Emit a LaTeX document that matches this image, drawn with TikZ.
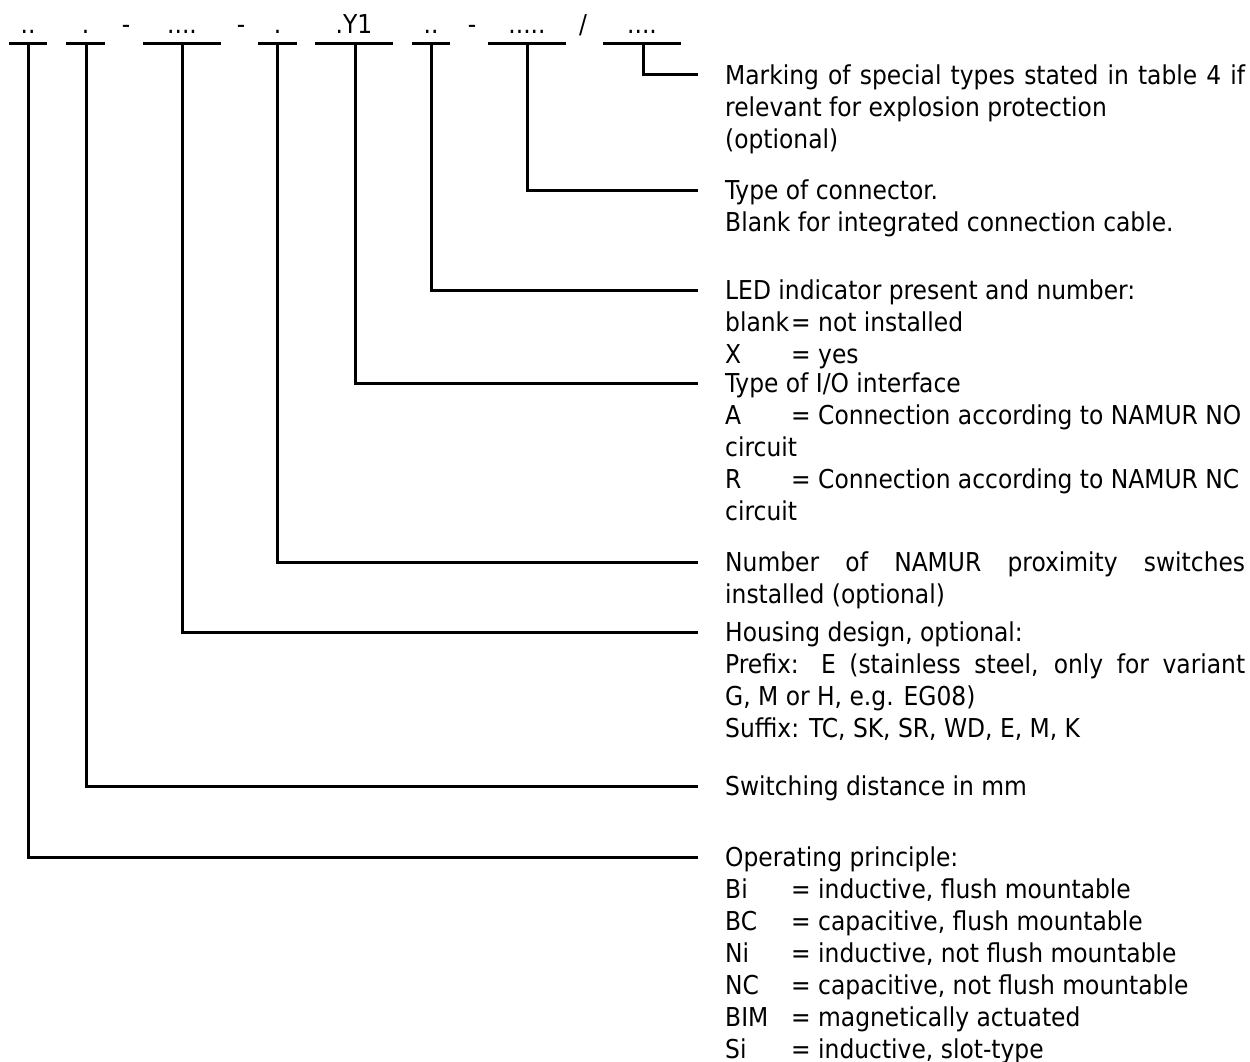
\documentclass[tikz,border=0pt]{standalone}
\usepackage{fontspec}
\IfFontExistsTF{DejaVu Sans Condensed}
  {\setmainfont{DejaVu Sans Condensed}}
  {\setmainfont{DejaVu Sans}[FakeStretch=0.88]}
\usepackage{tikz}
\usetikzlibrary{positioning, calc}

\newcommand{\bodyfont}{\fontsize{26}{32}\selectfont}
\newcommand{\tabrow}[2]{\makebox[66pt][l]{#1}= #2}

\tikzset{
    rule/.style={line width=3pt},
    code/.style={anchor=base, inner sep=0pt, font=\bodyfont},
    desc/.style={anchor=north west, inner sep=0pt, text width=520pt, align=justify, font=\bodyfont}
}

\begin{document}
\begin{tikzpicture}[x=1pt, y=-1pt]
    \useasboundingbox (0,0) rectangle (1250,1062);

    % Fields of the type code with their underline bars
    \foreach \n/\xa/\xb/\xs/\txt in {
        op/9/47/28/{..},
        sd/66/105/86/{.},
        hd/143/221/182/{....},
        ns/258/297/277/{.},
        io/315/393/355/{.Y1},
        led/412/450/431/{..},
        con/488/566/527/{.....},
        mk/603/681/643/{....}
    } {
        \draw [rule] (\xa,44) -- (\xb,44);
        \coordinate (s\n) at (\xs,44);
        \node [code] (c\n) at ({(\xa+\xb)/2},34) {\txt};
    }

    % Separators between the fields
    \foreach \n/\x/\s in {a/126/-, b/241/-, c/472/-, d/583/{/}} {
        \node [code] (sep\n) at (\x,34) {\s};
    }

    % End points of the leader lines
    \coordinate (emk) at (698,75);
    \coordinate (econ) at (698,190);
    \coordinate (eled) at (698,290);
    \coordinate (eio) at (698,383);
    \coordinate (ens) at (698,562);
    \coordinate (ehd) at (698,632);
    \coordinate (esd) at (698,786);
    \coordinate (eop) at (698,857);

    % Descriptions
    \node [desc] (dmk) at ([xshift=27pt,yshift=13pt]emk) {\strut Marking of special types stated in table 4 if\linebreak relevant for explosion protection\\(optional)};
    \node [desc] (dcon) at ([xshift=27pt,yshift=13pt]econ) {\strut Type of connector.\\Blank for integrated connection cable.};
    \node [desc] (dled) at ([xshift=27pt,yshift=13pt]eled) {\strut LED indicator present and number:\\\tabrow{blank}{not installed}\\\tabrow{X}{yes}};
    \node [desc] (dio) at ([xshift=27pt,yshift=13pt]eio) {\strut Type of I/O interface\\\tabrow{A}{Connection according to NAMUR NO}\\circuit\\\tabrow{R}{Connection according to NAMUR NC}\\circuit};
    \node [desc] (dns) at ([xshift=27pt,yshift=13pt]ens) {\strut Number of NAMUR proximity switches\linebreak installed (optional)};
    \node [desc] (dhd) at ([xshift=27pt,yshift=13pt]ehd) {\strut Housing design, optional:\\Prefix: E (stainless steel, only for variant\linebreak G, M or H, e.g. EG08)\\Suffix: TC, SK, SR, WD, E, M, K};
    \node [desc] (dsd) at ([xshift=27pt,yshift=13pt]esd) {\strut Switching distance in mm};
    \node [desc] (dop) at ([xshift=27pt,yshift=13pt]eop) {\strut Operating principle:\\\tabrow{Bi}{inductive, flush mountable}\\\tabrow{BC}{capacitive, flush mountable}\\\tabrow{Ni}{inductive, not flush mountable}\\\tabrow{NC}{capacitive, not flush mountable}\\\tabrow{BIM}{magnetically actuated}\\\tabrow{Si}{inductive, slot-type}};

    % Leader lines from the fields to the descriptions
    \foreach \n in {mk, con, led, io, ns, hd, sd, op} {
        \draw [rule] (s\n) |- (e\n);
    }
\end{tikzpicture}
\end{document}
